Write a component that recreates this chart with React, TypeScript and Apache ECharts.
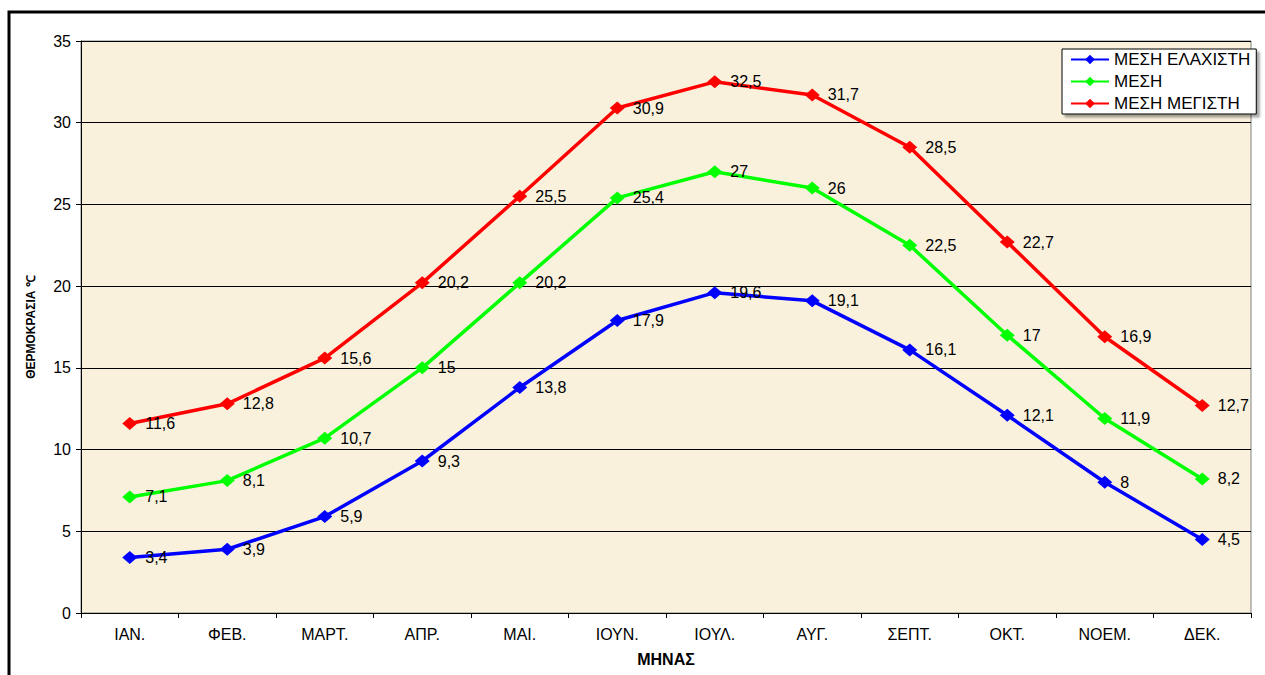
import React, { useEffect, useRef } from "react";
import * as echarts from "echarts";

const months = ["ΙΑΝ.", "ΦΕΒ.", "ΜΑΡΤ.", "ΑΠΡ.", "ΜΑΙ.", "ΙΟΥΝ.", "ΙΟΥΛ.", "ΑΥΓ.", "ΣΕΠΤ.", "ΟΚΤ.", "ΝΟΕΜ.", "ΔΕΚ."];
const minTemps = [3.4, 3.9, 5.9, 9.3, 13.8, 17.9, 19.6, 19.1, 16.1, 12.1, 8, 4.5];
const meanTemps = [7.1, 8.1, 10.7, 15, 20.2, 25.4, 27, 26, 22.5, 17, 11.9, 8.2];
const maxTemps = [11.6, 12.8, 15.6, 20.2, 25.5, 30.9, 32.5, 31.7, 28.5, 22.7, 16.9, 12.7];
const seriesNames = ["ΜΕΣΗ ΕΛΑΧΙΣΤΗ", "ΜΕΣΗ", "ΜΕΣΗ ΜΕΓΙΣΤΗ"];
const colors = ["#0000FF", "#00FF00", "#FF0000"];

const FONT = "'Liberation Sans', Arial, sans-serif";

export default function App() {
  const ref = useRef<HTMLDivElement>(null);
  useEffect(() => {
    if (!ref.current) return;
    const chart = echarts.init(ref.current, null, { renderer: "svg" });
    const mk = (name: string, data: number[], color: string) => ({
      name,
      type: "line",
      data,
      symbol: "diamond",
      symbolSize: [15, 13],
      itemStyle: { color },
      lineStyle: { color, width: 3.5 },
      label: {
        show: true,
        position: "right",
        distance: 8,
        fontSize: 16,
        fontFamily: FONT,
        color: "#000",
        formatter: (p: any) => String(p.value).replace(".", ","),
      },
    });
    chart.setOption({
      animation: false,
      backgroundColor: "#fff",
      textStyle: { fontFamily: FONT },
      graphic: [
        {
          type: "rect",
          shape: { x: 9, y: 12, width: 1300, height: 700 },
          style: { fill: "none", stroke: "#000", lineWidth: 3 },
          z: 100,
        },
      ],
      grid: {
        left: 81,
        top: 41,
        right: 14,
        bottom: 62,
        show: true,
        backgroundColor: "#FAF1DD",
        borderColor: "#808080",
        borderWidth: 1,
      },
      legend: {
        orient: "vertical",
        left: 1062,
        top: 49,
        data: seriesNames,
        itemWidth: 38,
        itemHeight: 12,
        itemGap: 5,
        padding: [2, 6, 2, 8],
        backgroundColor: "#fff",
        borderColor: "#000",
        borderWidth: 1,
        shadowColor: "rgba(0,0,0,0.35)",
        shadowOffsetX: 3,
        shadowOffsetY: 3,
        shadowBlur: 2,
        textStyle: { fontSize: 17, lineHeight: 17, fontFamily: FONT, color: "#000" },
      },
      xAxis: {
        type: "category",
        data: months,
        boundaryGap: true,
        name: "ΜΗΝΑΣ",
        nameLocation: "middle",
        nameGap: 38,
        nameTextStyle: { fontSize: 16, fontWeight: "bold", color: "#000", fontFamily: FONT },
        axisLine: { lineStyle: { color: "#000", width: 1 } },
        axisTick: { show: true, inside: false, length: 5, lineStyle: { color: "#000" } },
        axisLabel: { fontSize: 16, color: "#000", margin: 13, fontFamily: FONT },
        splitLine: { show: false },
      },
      yAxis: {
        type: "value",
        min: 0,
        max: 35,
        interval: 5,
        name: "ΘΕΡΜΟΚΡΑΣΙΑ ℃",
        nameLocation: "middle",
        nameRotate: 90,
        nameGap: 44,
        nameTextStyle: { fontSize: 12, fontWeight: "bold", color: "#000", fontFamily: FONT },
        axisLine: { show: true, lineStyle: { color: "#000", width: 1 } },
        axisTick: { show: true, length: 5, lineStyle: { color: "#000" } },
        axisLabel: { fontSize: 16, color: "#000", margin: 10, fontFamily: FONT },
        splitLine: { show: true, lineStyle: { color: "#000", width: 1 } },
      },
      series: [
        mk(seriesNames[0], minTemps, colors[0]),
        mk(seriesNames[1], meanTemps, colors[1]),
        mk(seriesNames[2], maxTemps, colors[2]),
      ],
    });
    return () => chart.dispose();
  }, []);
  return (
    <div
      ref={ref}
      style={{ position: "absolute", left: 0, top: 0, width: 1265, height: 675 }}
    />
  );
}
